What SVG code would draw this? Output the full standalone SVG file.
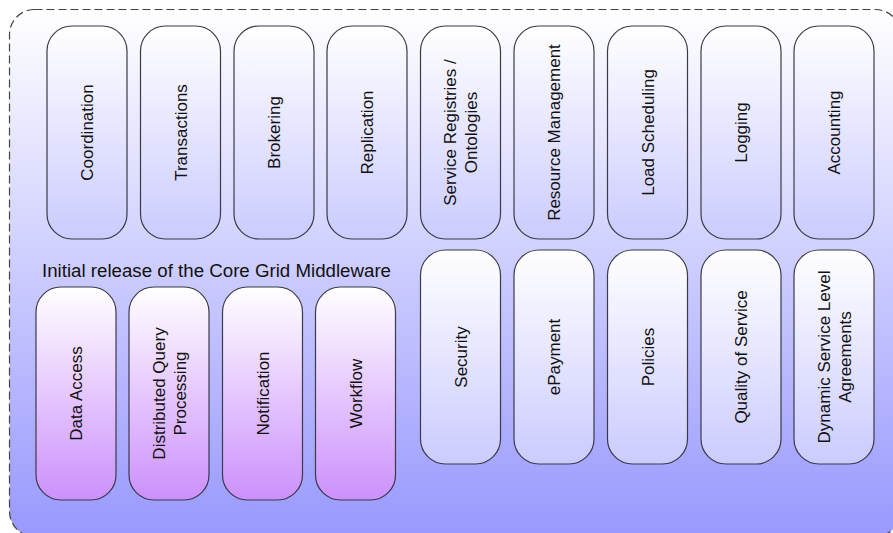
<svg xmlns="http://www.w3.org/2000/svg" width="893" height="533" viewBox="0 0 893 533">
<defs>
<linearGradient id="gBg" x1="0" y1="0" x2="0" y2="1">
<stop offset="0" stop-color="#ffffff"/>
<stop offset="1" stop-color="#9898ff"/>
</linearGradient>
<linearGradient id="gBlue" x1="0" y1="0" x2="0" y2="1">
<stop offset="0" stop-color="#ffffff"/>
<stop offset="1" stop-color="#cbcbff"/>
</linearGradient>
<linearGradient id="gPink" x1="0" y1="0" x2="0" y2="1">
<stop offset="0" stop-color="#ffffff"/>
<stop offset="1" stop-color="#cc90fc"/>
</linearGradient>
<style>
.cont{fill:url(#gBg);stroke:#444;stroke-width:1.2;stroke-dasharray:8 4}
.box{stroke:#3a3a48;stroke-width:1.2}
.blue{fill:url(#gBlue)}
.pink{fill:url(#gPink)}
text{font-family:"Liberation Sans",Arial,sans-serif;fill:#111}
.bt{font-size:17px;text-anchor:middle}
.lbl{font-size:18.7px}
</style>
</defs>
<g id="container">
<rect class="cont" x="9.5" y="9.5" width="891" height="527" rx="25" ry="25"/>
<text class="lbl" x="42" y="276.5">Initial release of the Core Grid Middleware</text>
</g>
<g id="connectors"/>
<g id="coordination"><rect class="box blue" x="47" y="26" width="80" height="213" rx="25"/><text class="bt" transform="translate(87,132.5) rotate(-90)" y="6">Coordination</text></g>
<g id="transactions"><rect class="box blue" x="140.5" y="26" width="80" height="213" rx="25"/><text class="bt" transform="translate(180.5,132.5) rotate(-90)" y="6">Transactions</text></g>
<g id="brokering"><rect class="box blue" x="234" y="26" width="80" height="213" rx="25"/><text class="bt" transform="translate(274,132.5) rotate(-90)" y="6">Brokering</text></g>
<g id="replication"><rect class="box blue" x="327" y="26" width="80" height="213" rx="25"/><text class="bt" transform="translate(367,132.5) rotate(-90)" y="6">Replication</text></g>
<g id="service-registries"><rect class="box blue" x="420.5" y="26" width="80" height="213" rx="25"/><text class="bt" transform="translate(460.5,132.5) rotate(-90)"><tspan x="0" y="-4.5">Service Registries /</tspan><tspan x="0" y="16.5">Ontologies</tspan></text></g>
<g id="resource-management"><rect class="box blue" x="514" y="26" width="80" height="213" rx="25"/><text class="bt" transform="translate(554,132.5) rotate(-90)" y="6">Resource Management</text></g>
<g id="load-scheduling"><rect class="box blue" x="607.5" y="26" width="80" height="213" rx="25"/><text class="bt" transform="translate(647.5,132.5) rotate(-90)" y="6">Load Scheduling</text></g>
<g id="logging"><rect class="box blue" x="701" y="26" width="80" height="213" rx="25"/><text class="bt" transform="translate(741,132.5) rotate(-90)" y="6">Logging</text></g>
<g id="accounting"><rect class="box blue" x="794" y="26" width="80" height="213" rx="25"/><text class="bt" transform="translate(834,132.5) rotate(-90)" y="6">Accounting</text></g>
<g id="security"><rect class="box blue" x="420.5" y="250" width="80" height="214" rx="25"/><text class="bt" transform="translate(460.5,357) rotate(-90)" y="6">Security</text></g>
<g id="epayment"><rect class="box blue" x="514" y="250" width="80" height="214" rx="25"/><text class="bt" transform="translate(554,357) rotate(-90)" y="6">ePayment</text></g>
<g id="policies"><rect class="box blue" x="607.5" y="250" width="80" height="214" rx="25"/><text class="bt" transform="translate(647.5,357) rotate(-90)" y="6">Policies</text></g>
<g id="quality-of-service"><rect class="box blue" x="701" y="250" width="80" height="214" rx="25"/><text class="bt" transform="translate(741,357) rotate(-90)" y="6">Quality of Service</text></g>
<g id="dynamic-sla"><rect class="box blue" x="794" y="250" width="80" height="214" rx="25"/><text class="bt" transform="translate(834,357) rotate(-90)"><tspan x="0" y="-4.5">Dynamic Service Level</tspan><tspan x="0" y="16.5">Agreements</tspan></text></g>
<g id="data-access"><rect class="box pink" x="36" y="287" width="80" height="213" rx="25"/><text class="bt" transform="translate(76,393.5) rotate(-90)" y="6">Data Access</text></g>
<g id="distributed-query"><rect class="box pink" x="129" y="287" width="80" height="213" rx="25"/><text class="bt" transform="translate(169,393.5) rotate(-90)"><tspan x="0" y="-4.5">Distributed Query</tspan><tspan x="0" y="16.5">Processing</tspan></text></g>
<g id="notification"><rect class="box pink" x="222.5" y="287" width="80" height="213" rx="25"/><text class="bt" transform="translate(262.5,393.5) rotate(-90)" y="6">Notification</text></g>
<g id="workflow"><rect class="box pink" x="315.5" y="287" width="80" height="213" rx="25"/><text class="bt" transform="translate(355.5,393.5) rotate(-90)" y="6">Workflow</text></g>
</svg>
